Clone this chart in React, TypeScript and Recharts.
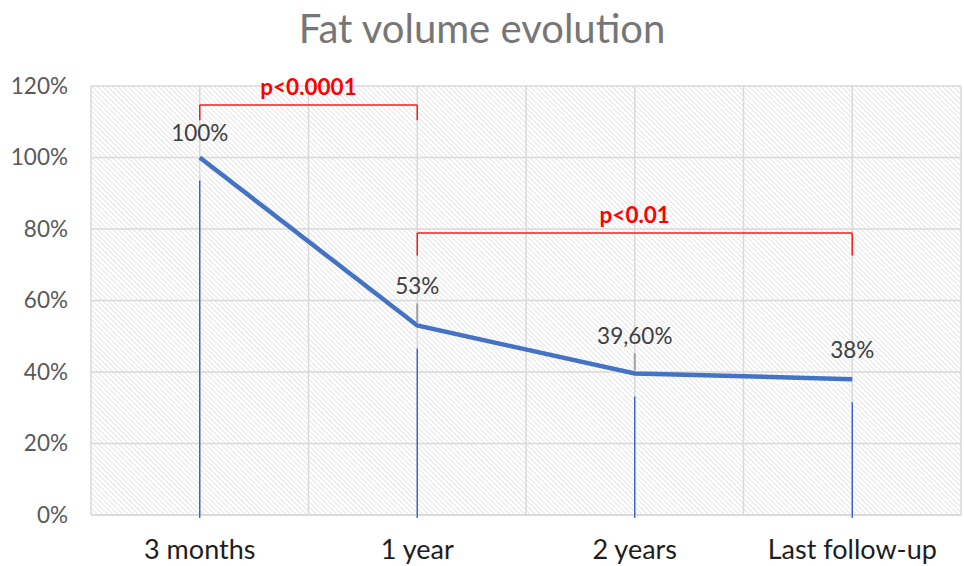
import { LineChart, Line, XAxis, YAxis, CartesianGrid, LabelList, ReferenceLine } from "recharts";

const categories = ["3 months", "1 year", "2 years", "Last follow-up"];
const fatVolume = [100, 53, 39.6, 38];
const pointLabels = ["100%", "53%", "39,60%", "38%"];
const yTicks = [0, 20, 40, 60, 80, 100, 120];
const pValues = ["p<0.0001", "p<0.01"];
const bracketSpans = [
  [0, 1],
  [1, 3],
];

const W = 964;
const H = 566;
const margin = { top: 86, right: 3, left: 0, bottom: 0 };
const X_AXIS_H = 51;
const PLOT_BOTTOM = H - X_AXIS_H;
const FONT = "Lato, 'Open Sans', sans-serif";

// label lift above the point, and whether a small leader line is drawn
const labelLift = [22, 37, 35, 27];
const leader = [false, true, true, false];
// bracket top level / end level (axis units)
const bracketTop = [114.7, 78.9];
const bracketEnd = [110.4, 72.6];

const data = categories.map((name, i) => ({ x: i, name, value: fatVolume[i] }));
const xTicks = [-0.5, 0, 0.5, 1, 1.5, 2, 2.5, 3, 3.5];

const DropLine = (props: any) => {
  const { cx, cy, index } = props;
  return (
    <line
      key={`drop-${index}`}
      x1={cx}
      x2={cx}
      y1={cy + 23}
      y2={PLOT_BOTTOM + 3}
      stroke="#2f55c8"
      strokeWidth={1.3}
    />
  );
};

const PointLabel = (props: any) => {
  const { x, y, index } = props;
  const lift = labelLift[index];
  return (
    <g>
      {leader[index] && (
        <line x1={x} x2={x} y1={y - lift + 15} y2={y - 3} stroke="#a0a0a0" strokeWidth={2} />
      )}
      <text
        x={x}
        y={y - lift}
        textAnchor="middle"
        dominantBaseline="middle"
        fontFamily={FONT}
        fontSize={22.5}
        fill="#404040"
      >
        {pointLabels[index]}
      </text>
    </g>
  );
};

export default function App() {
  return (
    <div style={{ position: "absolute", left: 0, top: 0, width: W, height: H, background: "#fff" }}>
      <div
        style={{
          position: "absolute",
          top: 5,
          left: 0,
          width: W,
          textAlign: "center",
          fontFamily: FONT,
          fontSize: 40,
          color: "#767676",
          lineHeight: "46px",
        }}
      >
        Fat volume evolution
      </div>
      <LineChart width={W} height={H} data={data} margin={margin}>
        <defs>
          <pattern
            id="hatch"
            width={3.6}
            height={10}
            patternUnits="userSpaceOnUse"
            patternTransform="rotate(-45)"
          >
            <line x1={0} y1={0} x2={0} y2={10} stroke="#cdcdcd" strokeWidth={1} />
          </pattern>
        </defs>
        <CartesianGrid fill="url(#hatch)" stroke="#d9d9d9" strokeWidth={1.5} />
        <XAxis
          type="number"
          dataKey="x"
          domain={[-0.5, 3.5]}
          ticks={xTicks}
          interval={0}
          height={X_AXIS_H}
          tickFormatter={(v: number) => (Number.isInteger(v) ? categories[v] : "")}
          tick={{ fontFamily: FONT, fontSize: 27, fill: "#1e1e1e" }}
          tickLine={false}
          tickSize={0}
          tickMargin={25}
          axisLine={{ stroke: "#d9d9d9", strokeWidth: 1.5 }}
        />
        <YAxis
          type="number"
          domain={[0, 120]}
          ticks={yTicks}
          width={91}
          tickFormatter={(v: number) => `${v}%`}
          tick={{ fontFamily: FONT, fontSize: 22.5, fill: "#595959" }}
          tickLine={false}
          tickSize={0}
          tickMargin={23}
          axisLine={false}
        />
        {bracketSpans.map(([a, b], i) => (
          <ReferenceLine
            key={`top-${i}`}
            segment={[
              { x: a, y: bracketTop[i] },
              { x: b, y: bracketTop[i] },
            ]}
            stroke="#ff1a1a"
            strokeWidth={1.5}
            ifOverflow="visible"
            label={{
              value: pValues[i],
              position: "top",
              offset: 10,
              fill: "#ff0000",
              fontFamily: FONT,
              fontSize: 22.5,
              fontWeight: 700,
            }}
          />
        ))}
        {bracketSpans.flatMap(([a, b], i) =>
          [a, b].map((x) => (
            <ReferenceLine
              key={`end-${i}-${x}`}
              segment={[
                { x, y: bracketTop[i] },
                { x, y: bracketEnd[i] },
              ]}
              stroke="#ff1a1a"
              strokeWidth={1.5}
            />
          ))
        )}
        <Line
          type="linear"
          dataKey="value"
          stroke="#4472c4"
          strokeWidth={4.5}
          dot={<DropLine />}
          activeDot={false}
          isAnimationActive={false}
        >
          <LabelList dataKey="value" content={<PointLabel />} />
        </Line>
      </LineChart>
    </div>
  );
}
